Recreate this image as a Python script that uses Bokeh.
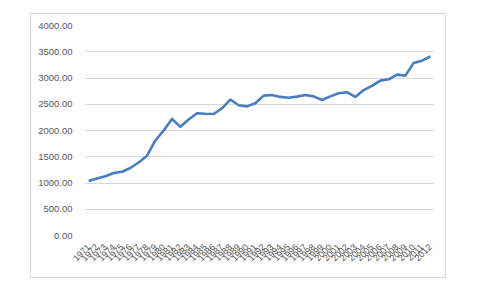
from bokeh.plotting import figure
from bokeh.models import NumeralTickFormatter, FixedTicker, Range1d
from bokeh.embed import file_html
from bokeh.resources import INLINE
import math

years = [str(y) for y in range(1971, 2013)]
values = [1040, 1085, 1130, 1190, 1215, 1285, 1390, 1520, 1810, 2000,
          2220, 2070, 2210, 2330, 2320, 2315, 2420, 2590, 2480, 2460,
          2520, 2665, 2675, 2640, 2625, 2645, 2675, 2650, 2580, 2650,
          2710, 2730, 2640, 2770, 2850, 2950, 2975, 3065, 3045, 3285,
          3330, 3410]
y_ticks = [0, 500, 1000, 1500, 2000, 2500, 3000, 3500, 4000]

p = figure(x_range=years, y_range=Range1d(0, 4000), width=416, height=265,
           output_backend="svg", toolbar_location=None,
           min_border_left=53, min_border_right=13, min_border_top=11, min_border_bottom=44)
p.styles = {"margin-left": "30px", "margin-top": "13px", "border": "1px solid #d9d9d9"}
p.line(years, values, line_color="#4a7dbf", line_width=2.6, line_join="round")

p.outline_line_color = None
p.xgrid.grid_line_color = None
p.ygrid.grid_line_color = "#d9d9d9"
p.ygrid.grid_line_width = 1
p.yaxis.ticker = FixedTicker(ticks=y_ticks)
p.yaxis.formatter = NumeralTickFormatter(format="0.00")
for ax in (p.xaxis, p.yaxis):
    ax.axis_line_color = None
    ax.major_tick_line_color = None
    ax.minor_tick_line_color = None
    ax.major_label_text_color = "#595959"
    ax.major_label_text_font = "Liberation Sans"
p.yaxis.major_label_text_font_size = "9.5px"
p.yaxis.major_label_standoff = 6
p.xaxis.major_label_text_font_size = "9px"
p.xaxis.major_label_orientation = math.pi / 4
p.xaxis.major_label_standoff = 4

open("out.html", "w").write(file_html(p, INLINE))
